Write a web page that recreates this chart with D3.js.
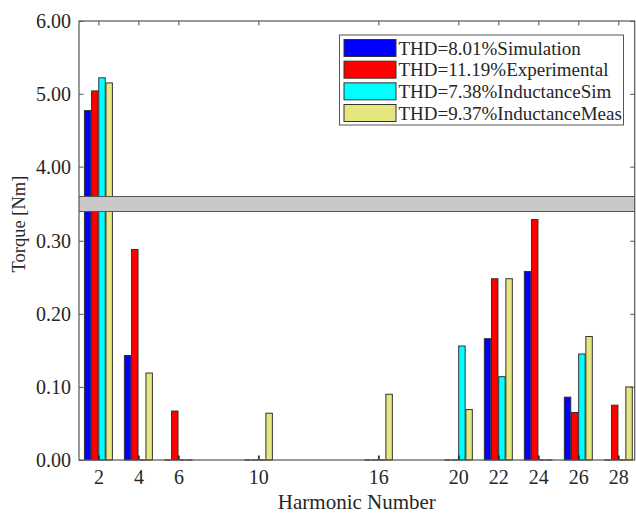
<!DOCTYPE html>
<html>
<head>
<meta charset="utf-8">
<script src="https://cdn.jsdelivr.net/npm/d3@7"></script>
<style>
  html, body { margin: 0; padding: 0; background: #fff; }
  svg text { font-family: 'Liberation Serif', 'Times New Roman', Times, serif !important; }
</style>
</head>
<body>
<svg id="chart" width="636" height="516"></svg>
<script>
// Harmonic orders on the x axis
const harmonics = [2, 4, 6, 10, 16, 20, 22, 24, 26, 28];

// Torque amplitude [Nm] of each harmonic, one array per series
const simulation    = [4.77, 0.143, 0, 0, 0, 0, 0.166, 0.258, 0.086, 0];
const experimental  = [5.04, 0.288, 0.067, 0, 0, 0, 0.248, 0.329, 0.065, 0.075];
const inductanceSim = [5.22, 0, 0, 0, 0, 0.156, 0.114, 0, 0.145, 0];
const inductanceMeas= [5.15, 0.119, 0, 0.064, 0.090, 0.069, 0.248, 0, 0.169, 0.100];

const seriesNames = [
  "THD=8.01%Simulation",
  "THD=11.19%Experimental",
  "THD=7.38%InductanceSim",
  "THD=9.37%InductanceMeas"
];
const seriesColors = ["#0000ff", "#ff0000", "#00ffff", "#e6e680"];

// Tick labels for the two halves of the broken y axis
const upperTicks = [4, 5, 6];
const lowerTicks = [0, 0.1, 0.2, 0.3];

const seriesValues = [simulation, experimental, inductanceSim, inductanceMeas];

// ---- layout ----
const L = 79, R = 634.7, T = 21, B = 460;
const breakTop = 196.5, breakBottom = 211.5;
const axisColor = "#555";
const serif = "'Liberation Serif', 'Times New Roman', Times, serif";

const svg = d3.select("#chart");

const x = d3.scaleLinear().domain([1.03, 28.82]).range([L, R]);
const yUp = d3.scaleLinear().domain([3.59, 6]).range([breakTop, T]);
const yLow = d3.scaleLinear().domain([0, 0.34]).range([B, breakBottom]);
const sub = d3.scaleBand().domain(d3.range(4)).range([-0.7, 0.7]).paddingInner(0.1);

// flatten to bar records
const bars = [];
harmonics.forEach((h, i) => {
  seriesValues.forEach((vals, s) => {
    bars.push({ h, s, v: vals[i] });
  });
});
const nonZero = bars.filter(d => d.v > 0);

const barG = svg.append("g").attr("stroke", "#333").attr("stroke-width", 1);

// lower panel bars (clipped at the top of the lower range)
barG.selectAll("rect.low").data(nonZero).join("rect")
  .attr("class", "low")
  .attr("x", d => x(d.h + sub(d.s)))
  .attr("width", d => x(d.h + sub(d.s) + sub.bandwidth()) - x(d.h + sub(d.s)))
  .attr("y", d => yLow(Math.min(d.v, 0.34)))
  .attr("height", d => yLow(0) - yLow(Math.min(d.v, 0.34)))
  .attr("fill", d => seriesColors[d.s]);

// upper panel bars for values above the break
barG.selectAll("rect.up").data(nonZero.filter(d => d.v > 3.59)).join("rect")
  .attr("class", "up")
  .attr("x", d => x(d.h + sub(d.s)))
  .attr("width", d => x(d.h + sub(d.s) + sub.bandwidth()) - x(d.h + sub(d.s)))
  .attr("y", d => yUp(d.v))
  .attr("height", d => yUp(3.59) - yUp(d.v) + 2)
  .attr("fill", d => seriesColors[d.s]);

// zero-valued bars collapse to a short outline on the baseline
svg.append("g").selectAll("line").data(bars.filter(d => d.v === 0)).join("line")
  .attr("x1", d => x(d.h + sub(d.s)))
  .attr("x2", d => x(d.h + sub(d.s) + sub.bandwidth()))
  .attr("y1", yLow(0)).attr("y2", yLow(0))
  .attr("stroke", "#555").attr("stroke-width", 1.6);

// break band
svg.append("rect")
  .attr("x", L).attr("y", breakTop)
  .attr("width", R - L).attr("height", breakBottom - breakTop)
  .attr("fill", "#c8c8c8").attr("stroke", "none");
svg.append("line").attr("x1", L).attr("x2", R).attr("y1", breakTop).attr("y2", breakTop)
  .attr("stroke", axisColor).attr("stroke-width", 1.2);
svg.append("line").attr("x1", L).attr("x2", R).attr("y1", breakBottom).attr("y2", breakBottom)
  .attr("stroke", axisColor).attr("stroke-width", 1.2);

// ---- axes ----
const fmt = d3.format(".2f");
const tickLen = 4.5;

function styleAxis(g) {
  g.attr("font-family", serif);
  g.select(".domain").remove();
  g.selectAll(".tick line").attr("stroke", axisColor);
  g.selectAll(".tick text").attr("fill", "#262626").attr("font-size", 20)
    .attr("font-family", serif);
}

// bottom x axis (ticks point inward)
svg.append("g").attr("transform", `translate(0,${B})`)
  .call(d3.axisBottom(x).tickValues(harmonics).tickSizeInner(-tickLen).tickSizeOuter(0).tickPadding(10))
  .call(styleAxis)
  .call(g => g.selectAll(".tick line").attr("stroke", "#222").attr("stroke-width", 1.6));

// top x axis: ticks only
svg.append("g").attr("transform", `translate(0,${T})`)
  .call(d3.axisTop(x).tickValues(harmonics).tickSizeInner(-tickLen).tickSizeOuter(0).tickFormat(""))
  .call(styleAxis);

// left y axes
svg.append("g").attr("transform", `translate(${L},0)`)
  .call(d3.axisLeft(yUp).tickValues(upperTicks).tickFormat(fmt).tickSizeInner(-tickLen).tickSizeOuter(0).tickPadding(8))
  .call(styleAxis);
svg.append("g").attr("transform", `translate(${L},0)`)
  .call(d3.axisLeft(yLow).tickValues(lowerTicks).tickFormat(fmt).tickSizeInner(-tickLen).tickSizeOuter(0).tickPadding(8))
  .call(styleAxis);

// right y axes: ticks only
svg.append("g").attr("transform", `translate(${R},0)`)
  .call(d3.axisRight(yUp).tickValues(upperTicks).tickSizeInner(-tickLen).tickSizeOuter(0).tickFormat(""))
  .call(styleAxis);
svg.append("g").attr("transform", `translate(${R},0)`)
  .call(d3.axisRight(yLow).tickValues(lowerTicks.filter(v => v > 0)).tickSizeInner(-tickLen).tickSizeOuter(0).tickFormat(""))
  .call(styleAxis);

// frame
svg.append("rect").attr("x", L).attr("y", T).attr("width", R - L).attr("height", B - T)
  .attr("fill", "none").attr("stroke", axisColor).attr("stroke-width", 1.2);

// axis titles
svg.append("text")
  .attr("x", (L + R) / 2).attr("y", 508.5)
  .attr("text-anchor", "middle").attr("font-size", 21).attr("font-family", serif).attr("fill", "#262626")
  .text("Harmonic Number");
svg.append("text")
  .attr("transform", "translate(25,224) rotate(-90)")
  .attr("text-anchor", "middle").attr("font-size", 18.5).attr("font-family", serif).attr("fill", "#262626")
  .text("Torque [Nm]");

// ---- legend ----
const lg = svg.append("g").attr("font-family", serif);
lg.append("rect").attr("x", 339.5).attr("y", 35).attr("width", 284).attr("height", 90)
  .attr("fill", "#fff").attr("stroke", axisColor).attr("stroke-width", 1);
const rowY = d3.scaleLinear().domain([0, 3]).range([48, 113]);
seriesNames.forEach((name, i) => {
  lg.append("rect").attr("x", 344).attr("y", rowY(i) - 8.5).attr("width", 52).attr("height", 17)
    .attr("fill", seriesColors[i]).attr("stroke", "#333").attr("stroke-width", 1);
  lg.append("text").attr("x", 398.5).attr("y", rowY(i)).attr("dy", "0.35em")
    .attr("font-size", 19).attr("font-family", serif).attr("fill", "#262626").text(name);
});
</script>
</body>
</html>
